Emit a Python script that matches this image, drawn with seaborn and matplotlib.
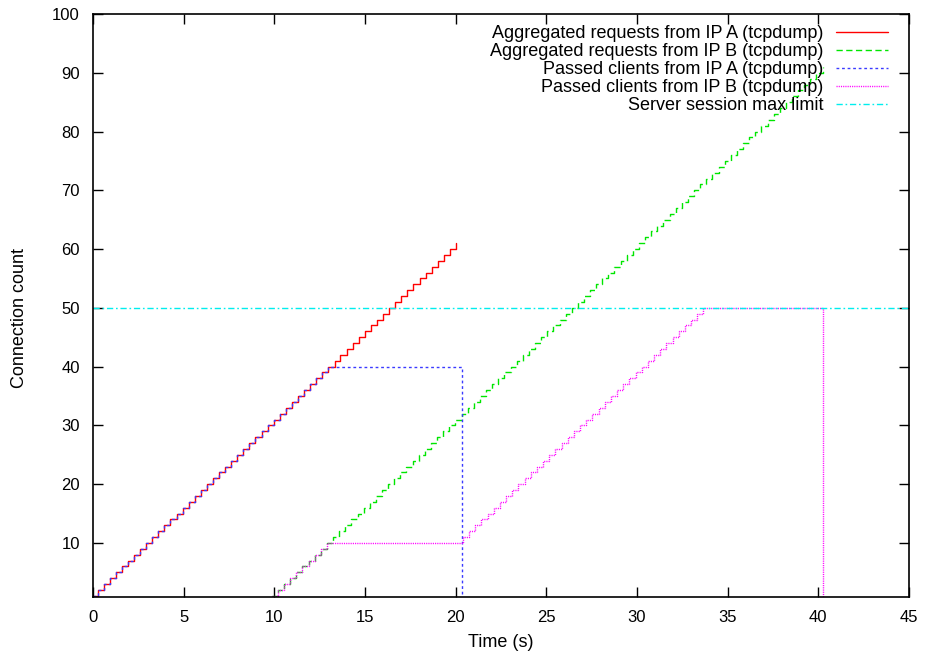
import numpy as np
import pandas as pd
import matplotlib
matplotlib.use("Agg")
import matplotlib.pyplot as plt
import seaborn as sns

# ---- data ----
# arrival times (s) of successive connections; count = running total
ip_a_times = [0.00, 0.25, 0.59, 0.92, 1.26, 1.59, 1.93, 2.26, 2.60, 2.93, 3.27,
              3.60, 3.94, 4.27, 4.61, 4.94, 5.28, 5.61, 5.95, 6.28, 6.62,
              6.95, 7.29, 7.62, 7.96, 8.29, 8.63, 8.96, 9.30, 9.63, 9.97,
              10.30, 10.64, 10.97, 11.31, 11.64, 11.98, 12.31, 12.65, 12.98, 13.32,
              13.65, 13.99, 14.32, 14.66, 14.99, 15.33, 15.66, 16.00, 16.33, 16.67,
              17.00, 17.34, 17.67, 18.01, 18.34, 18.68, 19.01, 19.35, 19.68, 20.02]
ip_b_times = [9.90, 10.20, 10.54, 10.88, 11.21, 11.55, 11.89, 12.23, 12.56, 12.90,
              13.24, 13.58, 13.91, 14.25, 14.59, 14.93, 15.26, 15.60, 15.94, 16.28,
              16.61, 16.95, 17.29, 17.63, 17.96, 18.30, 18.64, 18.98, 19.31, 19.65,
              19.99, 20.33, 20.66, 21.00, 21.34, 21.68, 22.01, 22.35, 22.69, 23.03,
              23.36, 23.70, 24.04, 24.38, 24.71, 25.05, 25.39, 25.73, 26.06, 26.40,
              26.74, 27.08, 27.41, 27.75, 28.09, 28.43, 28.76, 29.10, 29.44, 29.78,
              30.11, 30.45, 30.79, 31.13, 31.46, 31.80, 32.14, 32.48, 32.81, 33.15,
              33.49, 33.83, 34.16, 34.50, 34.84, 35.18, 35.51, 35.85, 36.19, 36.53,
              36.86, 37.20, 37.54, 37.88, 38.21, 38.55, 38.89, 39.23, 39.56, 39.90,
              40.24]

# passed clients
passed_a_limit = 40          # clients of IP A passed before being cut
passed_a_end = 20.33         # time the IP A sessions are dropped
passed_b_first = 10          # clients of IP B passed in the first phase
passed_b_second_times = [20.40, 20.74, 21.08, 21.42, 21.76, 22.10, 22.44, 22.78, 23.12, 23.46,
                         23.80, 24.14, 24.48, 24.82, 25.16, 25.50, 25.84, 26.18, 26.52, 26.86,
                         27.20, 27.54, 27.88, 28.22, 28.56, 28.90, 29.24, 29.58, 29.92, 30.26,
                         30.60, 30.94, 31.28, 31.62, 31.96, 32.30, 32.64, 32.98, 33.32, 33.66]
passed_b_end = 40.24
session_limit = 50

labels = ["Aggregated requests from IP A (tcpdump)",
          "Aggregated requests from IP B (tcpdump)",
          "Passed clients from IP A (tcpdump)",
          "Passed clients from IP B (tcpdump)",
          "Server session max limit"]

# ---- build series ----
a_counts = list(np.arange(1, len(ip_a_times) + 1))
b_counts = list(np.arange(1, len(ip_b_times) + 1))

pa_t = ip_a_times[:passed_a_limit] + [passed_a_end, passed_a_end]
pa_c = a_counts[:passed_a_limit] + [passed_a_limit, 0]

pb_t = (ip_b_times[:passed_b_first] + passed_b_second_times
        + [passed_b_end, passed_b_end])
pb_c = (b_counts[:passed_b_first]
        + list(np.arange(passed_b_first + 1, passed_b_first + 1 + len(passed_b_second_times)))
        + [session_limit, 0])

sns.set_theme(style="ticks")
plt.rcParams["font.family"] = ["Liberation Sans", "DejaVu Sans"]
plt.rcParams["font.size"] = 12
plt.rcParams["text.color"] = "black"
plt.rcParams["axes.labelcolor"] = "black"

fig = plt.figure(figsize=(9.26, 6.54), dpi=100)
ax = fig.add_axes([0.1004, 0.0876, 0.8812, 0.8910])

lw = 1.0
common = dict(ax=ax, estimator=None, sort=False, drawstyle="steps-post", lw=lw)
sns.lineplot(x=ip_a_times, y=a_counts, color="#ff0000", label=labels[0], **common)
sns.lineplot(x=ip_b_times, y=b_counts, color="#00e600", label=labels[1], **common)
ax.lines[-1].set_dashes((4.5, 2.5))
sns.lineplot(x=pa_t, y=pa_c, color="#3a3aff", label=labels[2], **common)
ax.lines[-1].set_dashes((2.0, 2.0))
sns.lineplot(x=pb_t, y=pb_c, color="#ff00ff", label=labels[3], **common)
ax.lines[-1].set_dashes((0.8, 0.8))
ax.axhline(session_limit, color="#00eeee", lw=lw, dashes=(4.5, 2, 1.2, 2),
           label=labels[4])

ax.set_xlim(0, 45)
ax.set_ylim(0.85, 100)
ax.set_xticks(np.arange(0, 46, 5))
ax.set_yticks(np.arange(10, 101, 10))
ax.tick_params(direction="in", length=7, width=1, top=True, right=True,
               labelsize=12, colors="black", pad=9.5)
for s in ax.spines.values():
    s.set_visible(True)
    s.set_color("black")
    s.set_linewidth(1.2)
ax.set_xlabel("Time (s)", fontsize=13, labelpad=6.5, color="black")
ax.set_ylabel("Connection count", fontsize=13, color="black")
ax.yaxis.set_label_coords(-0.0797, 0.478)
ax.grid(False)

leg = ax.legend(loc="upper right", frameon=False, markerfirst=False,
                fontsize=13, handlelength=2.88, handletextpad=0.72,
                labelspacing=0.06, borderaxespad=0, borderpad=0,
                bbox_to_anchor=(0.959, 0.9616), bbox_transform=fig.transFigure)
for t in leg.get_texts():
    t.set_color("black")

fig.savefig("out.png", dpi=100)
